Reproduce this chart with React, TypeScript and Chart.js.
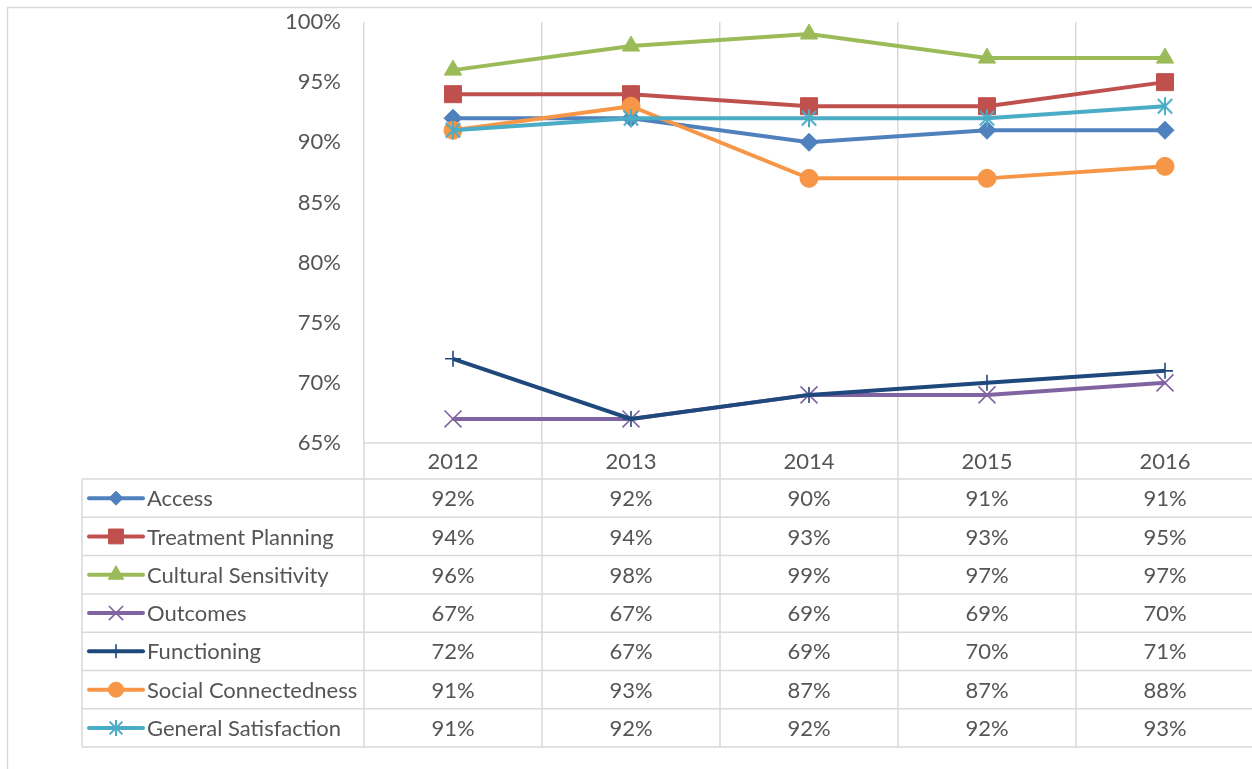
import React, { useEffect, useRef } from 'react';
import { Chart, registerables } from 'chart.js';
import { drawPoint } from 'chart.js/helpers';

Chart.register(...registerables);

const years = ['2012', '2013', '2014', '2015', '2016'];
const seriesNames = [
  'Access',
  'Treatment Planning',
  'Cultural Sensitivity',
  'Outcomes',
  'Functioning',
  'Social Connectedness',
  'General Satisfaction',
];
const access = [92, 92, 90, 91, 91];
const treatmentPlanning = [94, 94, 93, 93, 95];
const culturalSensitivity = [96, 98, 99, 97, 97];
const outcomes = [67, 67, 69, 69, 70];
const functioning = [72, 67, 69, 70, 71];
const socialConnectedness = [91, 93, 87, 87, 88];
const generalSatisfaction = [91, 92, 92, 92, 93];
const yMin = 65;
const yMax = 100;
const yStep = 5;

const seriesValues = [
  access,
  treatmentPlanning,
  culturalSensitivity,
  outcomes,
  functioning,
  socialConnectedness,
  generalSatisfaction,
];
const colors = ['#4F81BD', '#C0504D', '#9BBB59', '#8064A2', '#1F497D', '#F79646', '#4BACC6'];

const FONT = 'Lato, "Open Sans", sans-serif';
const TEXT = '#555555';
const GRID = '#D9D9D9';

function makeStar(size: number, color: string, lw: number): HTMLCanvasElement {
  const c = document.createElement('canvas');
  c.width = size;
  c.height = size;
  const g = c.getContext('2d')!;
  g.strokeStyle = color;
  g.lineWidth = lw;
  const m = size / 2;
  const r = size / 2 - 1;
  const d = r * 0.8;
  g.beginPath();
  g.moveTo(m, m - r);
  g.lineTo(m, m + r);
  g.moveTo(m - d, m - d);
  g.lineTo(m + d, m + d);
  g.moveTo(m + d, m - d);
  g.lineTo(m - d, m + d);
  g.stroke();
  return c;
}

export default function App() {
  const ref = useRef<HTMLCanvasElement | null>(null);

  useEffect(() => {
    if (!ref.current) return;
    const star = makeStar(20, '#4BACC6', 2);
    const markers: any[] = [
      { pointStyle: 'rectRot', radius: 9, borderWidth: 1 },
      { pointStyle: 'rect', radius: 12, borderWidth: 1 },
      { pointStyle: 'triangle', radius: 10, borderWidth: 1 },
      { pointStyle: 'crossRot', radius: 12, borderWidth: 1.6 },
      { pointStyle: 'cross', radius: 8, borderWidth: 1.6 },
      { pointStyle: 'circle', radius: 9, borderWidth: 1 },
      { pointStyle: star, radius: 10, borderWidth: 1 },
    ];
    const legendMarkers: any[] = [
      { pointStyle: 'rectRot', radius: 7, borderWidth: 1 },
      { pointStyle: 'rect', radius: 10.5, borderWidth: 1 },
      { pointStyle: 'triangle', radius: 9, borderWidth: 1 },
      { pointStyle: 'crossRot', radius: 10, borderWidth: 1.6 },
      { pointStyle: 'cross', radius: 7, borderWidth: 1.6 },
      { pointStyle: 'circle', radius: 7.5, borderWidth: 1 },
      { pointStyle: makeStar(18, '#4BACC6', 2), radius: 9, borderWidth: 1 },
    ];

    const tablePlugin = {
      id: 'dataTable',
      beforeDraw(chart: any) {
        const { ctx } = chart;
        ctx.save();
        ctx.fillStyle = '#ffffff';
        ctx.fillRect(0, 0, chart.width, chart.height);
        ctx.strokeStyle = GRID;
        ctx.lineWidth = 1.5;
        ctx.beginPath();
        ctx.moveTo(7.5, chart.height + 5);
        ctx.lineTo(7.5, 7.5);
        ctx.lineTo(chart.width + 5, 7.5);
        ctx.stroke();
        ctx.restore();
      },
      afterDraw(chart: any) {
        const { ctx, chartArea } = chart;
        const n = years.length;
        const top = chartArea.bottom;
        const headerH = 36;
        const rowH = 38.3;
        const tableLeft = 82;
        const right = chartArea.right;
        const bodyTop = top + headerH;
        const bottom = bodyTop + rowH * seriesNames.length;
        const colW = (chartArea.right - chartArea.left) / n;
        const xs = chart.scales.x;

        ctx.save();
        ctx.strokeStyle = GRID;
        ctx.lineWidth = 1.5;
        ctx.beginPath();
        ctx.moveTo(chartArea.left, top);
        ctx.lineTo(right, top);
        for (let i = 0; i <= seriesNames.length; i++) {
          const y = bodyTop + i * rowH;
          ctx.moveTo(tableLeft, y);
          ctx.lineTo(right, y);
        }
        for (let i = 0; i <= n; i++) {
          const bx = chartArea.left + i * colW;
          ctx.moveTo(bx, top);
          ctx.lineTo(bx, bottom);
        }
        ctx.moveTo(tableLeft, bodyTop);
        ctx.lineTo(tableLeft, bottom);
        ctx.stroke();

        ctx.fillStyle = TEXT;
        ctx.font = `22px ${FONT}`;
        ctx.textBaseline = 'middle';
        ctx.textAlign = 'center';
        years.forEach((yr, i) => {
          ctx.fillText(yr, xs.getPixelForValue(i), top + headerH / 2 + 1);
        });

        seriesNames.forEach((name, r) => {
          const cy = bodyTop + r * rowH + rowH / 2;
          ctx.save();
          ctx.strokeStyle = colors[r];
          ctx.lineWidth = 4;
          ctx.lineCap = 'round';
          ctx.beginPath();
          ctx.moveTo(89, cy);
          ctx.lineTo(143, cy);
          ctx.stroke();
          ctx.fillStyle = colors[r];
          ctx.strokeStyle = colors[r];
          ctx.lineWidth = legendMarkers[r].borderWidth;
          ctx.lineCap = 'butt';
          drawPoint(ctx, { ...legendMarkers[r], rotation: 0 }, 116, cy);
          ctx.restore();

          ctx.fillStyle = TEXT;
          ctx.textAlign = 'left';
          ctx.fillText(name, 147, cy + 1);
          ctx.textAlign = 'center';
          seriesValues[r].forEach((v, i) => {
            ctx.fillText(`${v}%`, xs.getPixelForValue(i), cy + 1);
          });
        });
        ctx.restore();
      },
    };

    const chart = new Chart(ref.current, {
      type: 'line',
      data: {
        labels: years,
        datasets: seriesNames.map((name, i) => ({
          label: name,
          data: seriesValues[i],
          borderColor: colors[i],
          backgroundColor: colors[i],
          borderWidth: 4,
          pointStyle: markers[i].pointStyle,
          pointRadius: markers[i].radius,
          pointHoverRadius: markers[i].radius,
          pointBorderWidth: markers[i].borderWidth,
          pointBackgroundColor: colors[i],
          pointBorderColor: colors[i],
          tension: 0,
          order: seriesNames.length - i,
          clip: false as any,
        })),
      },
      options: {
        responsive: false,
        animation: false,
        devicePixelRatio: 1,
        layout: { autoPadding: false, padding: { top: 22, right: 8, left: 0, bottom: 0 } } as any,
        plugins: {
          legend: { display: false },
          tooltip: { enabled: false },
        },
        scales: {
          x: {
            type: 'category',
            offset: true,
            grid: { display: true, offset: true, color: GRID, lineWidth: 1.5, drawTicks: false },
            border: { display: false },
            ticks: { display: false },
            afterFit: (s: any) => {
              s.height = 769 - 443;
              s.paddingLeft = 0;
              s.paddingRight = 0;
            },
          },
          y: {
            min: yMin,
            max: yMax,
            grid: { display: false, drawTicks: false },
            border: { display: false },
            ticks: {
              stepSize: yStep,
              padding: 23,
              color: TEXT,
              font: { family: FONT, size: 22 },
              callback: (v: any) => `${v}%`,
            },
            afterFit: (s: any) => {
              s.width = 364;
              s.paddingTop = 0;
              s.paddingBottom = 0;
            },
          },
        },
      },
      plugins: [tablePlugin],
    });
    return () => chart.destroy();
  }, []);

  return (
    <div
      style={{
        position: 'fixed',
        left: 0,
        top: 0,
        width: 1252,
        height: 769,
        overflow: 'hidden',
        background: '#fff',
      }}
    >
      <canvas ref={ref} width={1262} height={769} style={{ width: 1262, height: 769, display: 'block' }} />
    </div>
  );
}
